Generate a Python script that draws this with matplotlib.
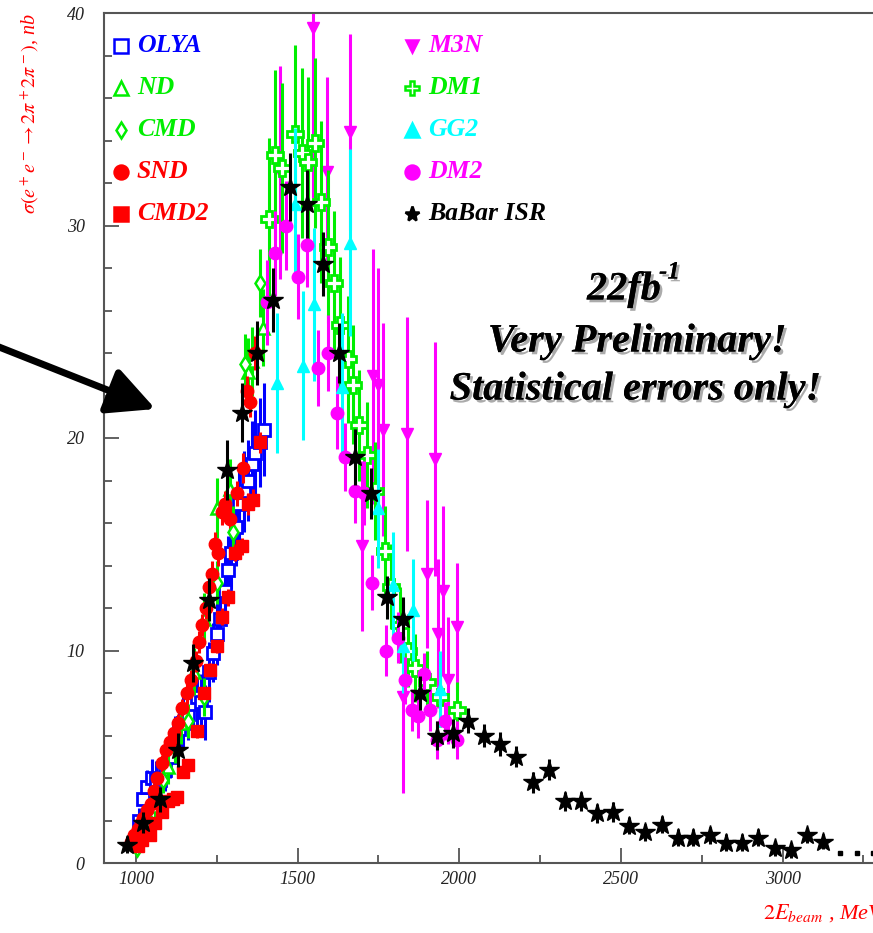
import numpy as np
import matplotlib.pyplot as plt
import matplotlib.patheffects as pe
from matplotlib.ticker import MultipleLocator

plt.rcParams['mathtext.fontset'] = 'stix'

# e+e- -> 2pi+ 2pi- cross section, nb, vs 2E_beam in MeV
olya_e = [1010, 1022, 1035, 1049, 1062, 1074, 1090, 1105, 1120, 1133, 1145, 1160, 1175, 1188,
          1200, 1213, 1225, 1238, 1250, 1260, 1275, 1285, 1295, 1310, 1320, 1335, 1346, 1358,
          1368, 1383, 1396]
olya_s = [2.0, 3.0, 3.6, 4.0, 3.9, 3.9, 4.4, 5.0, 5.8, 6.3, 6.6, 7.0, 7.5, 7.8,
          7.6, 7.1, 9.0, 9.9, 10.8, 11.5, 12.8, 13.8, 14.6, 15.8, 16.9, 17.5, 18.0, 18.8,
          19.3, 19.8, 20.4]
olya_err = [0.6, 0.7, 0.8, 0.9, 0.9, 0.9, 1.0, 1.0, 1.1, 1.1, 1.2, 1.2, 1.3, 1.3,
            1.3, 1.3, 1.4, 1.4, 1.5, 1.5, 1.6, 1.6, 1.7, 1.8, 1.8, 1.9, 1.9, 2.0,
            2.0, 2.1, 2.2]

nd_e = [1060, 1100, 1140, 1180, 1210, 1250, 1290, 1346, 1360, 1393]
nd_s = [2.7, 4.5, 6.6, 9.0, 11.5, 16.7, 17.6, 23.1, 23.6, 25.2]
nd_err = [0.6, 0.8, 1.0, 1.1, 1.2, 1.4, 1.4, 1.6, 1.6, 1.8]

cmd_e = [1003, 1020, 1040, 1085, 1120, 1161, 1210, 1250, 1300, 1337, 1383]
cmd_s = [0.7, 1.4, 2.0, 3.9, 5.4, 6.7, 7.8, 13.2, 15.6, 23.5, 27.3]
cmd_err = [0.3, 0.4, 0.5, 0.6, 0.7, 0.8, 0.9, 1.0, 1.2, 1.4, 1.6]

snd_e = [985, 995, 1005, 1015, 1022, 1035, 1045, 1055, 1065, 1080, 1092, 1105, 1118, 1130,
         1142, 1158, 1170, 1185, 1195, 1204, 1215, 1225, 1235, 1245, 1255, 1265, 1275, 1291,
         1312, 1331, 1343, 1352, 1368]
snd_s = [1.0, 1.3, 1.6, 1.9, 2.1, 2.5, 2.8, 3.4, 4.0, 4.7, 5.3, 5.7, 6.1, 6.6,
         7.3, 8.0, 8.6, 9.5, 10.4, 11.2, 12.0, 13.0, 13.6, 15.0, 14.6, 16.5, 16.9, 16.2,
         17.4, 18.6, 22.2, 21.7, 24.0]
snd_err = [0.2, 0.2, 0.2, 0.3, 0.3, 0.3, 0.3, 0.3, 0.3, 0.4, 0.4, 0.4, 0.4, 0.4,
           0.4, 0.5, 0.5, 0.5, 0.5, 0.5, 0.5, 0.5, 0.6, 0.6, 0.6, 0.6, 0.6, 0.6,
           0.6, 0.7, 0.7, 0.7, 0.8]

cmd2_e = [1005, 1020, 1043, 1060, 1080, 1099, 1113, 1127, 1145, 1161, 1188, 1210, 1229, 1250,
          1266, 1285, 1306, 1328, 1346, 1362, 1383]
cmd2_s = [0.8, 1.1, 1.3, 1.9, 2.4, 2.9, 3.0, 3.1, 4.3, 4.6, 6.2, 8.0, 9.1, 10.2,
          11.6, 12.5, 14.6, 14.9, 16.9, 17.1, 19.8]
cmd2_err = [0.1, 0.1, 0.1, 0.1, 0.2, 0.2, 0.2, 0.2, 0.2, 0.2, 0.3, 0.3, 0.3, 0.3,
            0.4, 0.4, 0.4, 0.4, 0.5, 0.5, 0.5]

m3n_e = [1445, 1547, 1591, 1662, 1699, 1733, 1749, 1764, 1826, 1838, 1900, 1925, 1934, 1950,
         1964, 1993]
m3n_s = [32.5, 39.3, 32.5, 34.4, 14.9, 22.9, 22.5, 20.4, 7.8, 20.2, 13.6, 19.0, 10.8, 12.8,
         8.6, 11.1]
m3n_err = [5.0, 8.0, 4.5, 4.6, 4.0, 6.0, 5.5, 5.0, 4.5, 5.5, 3.5, 5.5, 3.5, 4.0,
           3.0, 3.0]

dm1_e = [1411, 1430, 1452, 1492, 1513, 1532, 1553, 1572, 1594, 1613, 1631, 1656, 1671, 1690,
         1714, 1740, 1770, 1790, 1815, 1840, 1862, 1900, 1940, 1993]
dm1_s = [30.3, 33.3, 32.7, 34.3, 33.4, 33.0, 33.9, 31.1, 29.0, 27.3, 25.3, 23.7, 22.5, 20.6,
         19.2, 17.5, 14.7, 13.0, 11.2, 10.0, 9.2, 8.5, 7.8, 7.2]
dm1_err = [3.8, 4.0, 4.0, 4.2, 4.0, 4.0, 4.0, 3.8, 3.6, 3.4, 3.2, 3.0, 2.8, 2.6,
           2.5, 2.3, 2.1, 2.0, 1.8, 1.7, 1.6, 1.5, 1.4, 1.3]

gg2_e = [1436, 1492, 1517, 1550, 1637, 1662, 1748, 1795, 1826, 1857, 1940]
gg2_s = [22.6, 31.0, 23.4, 26.3, 22.4, 29.2, 16.7, 13.1, 10.2, 11.9, 8.2]
gg2_err = [3.3, 3.6, 3.5, 3.6, 3.5, 4.4, 2.8, 2.5, 2.2, 2.4, 1.8]

dm2_e = [1405, 1430, 1464, 1500, 1530, 1563, 1594, 1622, 1646, 1677, 1705, 1730, 1773, 1810,
         1832, 1853, 1872, 1891, 1910, 1931, 1956, 1993]
dm2_s = [26.4, 28.7, 30.0, 27.6, 29.1, 23.3, 24.0, 21.2, 19.1, 17.5, 17.4, 13.2, 10.0, 10.6,
         8.6, 7.2, 6.9, 8.9, 7.2, 5.8, 6.7, 5.8]
dm2_err = [2.0, 2.0, 2.1, 2.0, 2.0, 1.8, 1.8, 1.7, 1.6, 1.5, 1.5, 1.3, 1.2, 1.2,
           1.1, 1.0, 1.0, 1.0, 1.0, 0.9, 0.9, 0.9]

babar_e = [972, 1022, 1074, 1130, 1176, 1226, 1281, 1328, 1374, 1424, 1476, 1529, 1578, 1628,
           1677, 1727, 1776, 1826, 1878, 1931, 1980, 2027, 2076, 2126, 2175, 2228, 2277, 2327,
           2376, 2426, 2475, 2524, 2574, 2626, 2676, 2723, 2775, 2825, 2874, 2924, 2976, 3026,
           3075, 3124]
babar_s = [0.85, 1.9, 3.0, 5.3, 9.4, 12.4, 18.5, 21.2, 24.0, 26.5, 31.8, 31.0, 28.2, 24.0,
           19.1, 17.4, 12.5, 11.5, 8.0, 6.0, 6.1, 6.7, 6.0, 5.6, 5.0, 3.8, 4.4, 2.9,
           2.9, 2.35, 2.4, 1.75, 1.45, 1.8, 1.2, 1.2, 1.3, 0.95, 0.95, 1.2, 0.7, 0.6,
           1.3, 1.0]
babar_err = [0.4, 0.5, 0.6, 0.8, 0.9, 1.0, 1.4, 1.4, 1.5, 1.5, 1.6, 1.6, 1.5, 1.4,
             1.3, 1.2, 1.0, 1.0, 0.8, 0.7, 0.7, 0.6, 0.55, 0.55, 0.5, 0.5, 0.5, 0.45,
             0.45, 0.45, 0.45, 0.4, 0.4, 0.4, 0.4, 0.4, 0.4, 0.4, 0.4, 0.4, 0.35, 0.35,
             0.35, 0.35]
babar_tail_e = [3177, 3230, 3278]
babar_tail_s = [0.47, 0.47, 0.47]

BLUE, GREEN, CYAN, MAG, RED = '#0000ff', '#00ee00', '#00ffff', '#ff00ff', '#ff0000'

W, H = 873, 933
fig = plt.figure(figsize=(W / 100, H / 100), dpi=100)
ax = fig.add_axes([104 / W, 70 / H, 796 / W, 850 / H])


def eb(x, y, e, color, marker, ms, face=None, mew=1.0, z=2):
    ax.errorbar(x, y, yerr=e, fmt=marker, color=color, ms=ms,
                mfc=face if face else color, mec=color, mew=mew,
                elinewidth=2.2, capsize=0, zorder=z)


eb(olya_e, olya_s, olya_err, BLUE, 's', 9, face='white', mew=2.0, z=2)
eb(nd_e, nd_s, nd_err, GREEN, '^', 9, face='white', mew=1.8, z=2.1)
eb(cmd_e, cmd_s, cmd_err, GREEN, 'd', 8, face='white', mew=1.8, z=2.2)
eb(snd_e, snd_s, snd_err, RED, 'o', 9, z=2.3)
eb(cmd2_e, cmd2_s, cmd2_err, RED, 's', 9, z=2.4)
eb(m3n_e, m3n_s, m3n_err, MAG, 'v', 8.5, z=2.5)
eb(dm1_e, dm1_s, dm1_err, GREEN, 'P', 12, face='white', mew=2.0, z=2.6)
eb(gg2_e, gg2_s, gg2_err, CYAN, '^', 8.5, z=2.7)
eb(dm2_e, dm2_s, dm2_err, MAG, 'o', 9, z=2.8)
eb(babar_e, babar_s, babar_err, 'black', '*', 15, z=3)
ax.plot(babar_tail_e, babar_tail_s, 's', color='black', ms=2.2, zorder=3)

ax.set_xlim(901, 3363)
ax.set_ylim(0, 40)
ax.xaxis.set_major_locator(MultipleLocator(500))
ax.xaxis.set_minor_locator(MultipleLocator(250))
ax.yaxis.set_major_locator(MultipleLocator(10))
ax.yaxis.set_minor_locator(MultipleLocator(2))

for s in ax.spines.values():
    s.set_color('#555555')
    s.set_linewidth(1.5)
ax.tick_params(which='both', direction='in', color='#555555', width=1.3,
               top=False, right=False)
ax.tick_params(which='major', length=11)
ax.tick_params(which='minor', length=6)
ax.tick_params(axis='y', which='major', pad=14)
ax.tick_params(axis='x', which='major', pad=6)
for lab in ax.get_xticklabels() + ax.get_yticklabels():
    lab.set_fontfamily('Liberation Serif')
    lab.set_fontstyle('italic')
    lab.set_fontsize(13)
    lab.set_color('#222222')


def fx(px):
    return px / W


def fy(py):
    return 1 - py / H


fig.text(fx(30), fy(113), r'$\sigma(e^+e^- \rightarrow 2\pi^+2\pi^-)$, nb',
         rotation=90, color=RED, fontsize=14.5,
         family='Liberation Serif', style='italic', ha='center', va='center')
fig.text(fx(763), fy(913), r'$2E_{beam}$ , MeV', color=RED, fontsize=16,
         family='Liberation Serif', style='italic', ha='left', va='center')

# legend, two columns of marker + label
legend_left = [('OLYA', BLUE, 's', 'white'), ('ND', GREEN, '^', 'white'),
               ('CMD', GREEN, 'd', 'white'), ('SND', RED, 'o', RED),
               ('CMD2', RED, 's', RED)]
legend_right = [('M3N', MAG, 'v', MAG), ('DM1', GREEN, 'P', 'white'),
                ('GG2', CYAN, '^', CYAN), ('DM2', MAG, 'o', MAG),
                ('BaBar ISR', 'black', '*', 'black')]
rows = [46, 88, 130, 172, 214]
for col, mx, tx in [(legend_left, 121, 137), (legend_right, 412, 428)]:
    for (name, c, m, face), ry in zip(col, rows):
        ms = {'s': 10, '^': 10, 'o': 10, 'd': 8, 'v': 9, 'P': 10, '*': 11}[m]
        fig.add_artist(plt.Line2D([fx(mx)], [fy(ry)], marker=m, ms=ms, mfc=face,
                                  mec=c, mew=1.8, linestyle='none',
                                  transform=fig.transFigure))
        fig.text(fx(tx), fy(ry), name, color=c, fontsize=18.5,
                 family='Liberation Serif', weight='bold', style='italic',
                 ha='left', va='center')

shadow = [pe.withSimplePatchShadow(offset=(2, -2), shadow_rgbFace='#888888', alpha=0.7),
          pe.Normal()]
notes = [(637, 342, 'Very Preliminary!'),
         (635, 390, 'Statistical errors only!')]
note_kw = dict(family='Liberation Serif', weight='bold', style='italic', color='black')
for nx, ny, s in notes:
    t = fig.text(fx(nx), fy(ny), s, fontsize=29, ha='center', va='center', **note_kw)
    t.set_path_effects(shadow)
t = fig.text(fx(587), fy(290), '22fb', fontsize=29, ha='left', va='center', **note_kw)
t.set_path_effects(shadow)
t = fig.text(fx(659), fy(272), '-1', fontsize=18, ha='left', va='center', **note_kw)
t.set_path_effects(shadow)

ax.annotate('', xy=(158, H - 410), xytext=(-6, H - 345),
            xycoords='figure pixels', textcoords='figure pixels',
            arrowprops=dict(arrowstyle='-|>,head_length=1.2,head_width=0.6',
                            lw=5, color='black', mutation_scale=24),
            annotation_clip=False)

fig.savefig('out.png', dpi=100)
